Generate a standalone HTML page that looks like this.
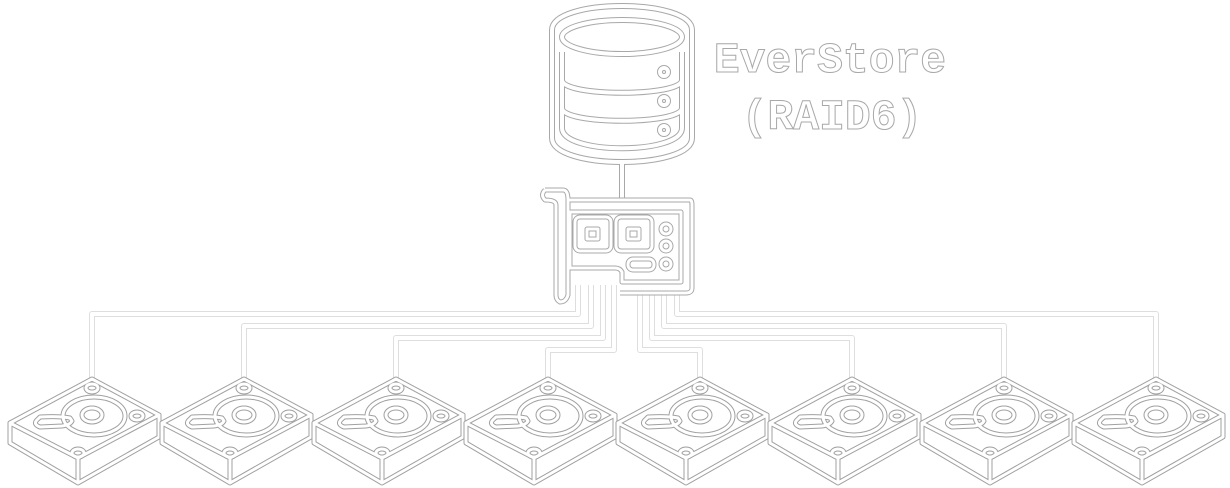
<!DOCTYPE html>
<html><head><style>
html,body{margin:0;padding:0;background:#fff;width:1230px;height:488px;overflow:hidden}
</style></head><body>
<svg width="1230" height="488" viewBox="0 0 1230 488" xmlns="http://www.w3.org/2000/svg">
<defs>
<g id="drive" fill="none" stroke-linejoin="round" stroke-linecap="round">
  <path d="M10,423 L92,379 L159,415 L78,458 Z"/>
  <path d="M10,423 L10,443 L78,483 L159,437 L159,415 M78,458 L78,483"/>
  <ellipse cx="94" cy="416" rx="31" ry="19"/>
  <ellipse cx="92" cy="415" rx="10" ry="7"/>
  <path d="M38,419 Q32,424 40,427 L62,426 Q70,425 72,421 L70,418 Q60,416 40,417 Z"/>
  <ellipse cx="92" cy="388" rx="6" ry="4"/>
  <ellipse cx="137" cy="416" rx="6" ry="4"/>
  <ellipse cx="78" cy="453" rx="6" ry="4"/>
</g>
<g id="wires" fill="none" stroke-linejoin="round">
  <path d="M92,379 V314 H578 V285"/>
  <path d="M244,379 V326 H591 V285"/>
  <path d="M396,379 V338 H603 V285"/>
  <path d="M548,379 V350 H614 V285"/>
  <path d="M700,379 V350 H640 V295"/>
  <path d="M852,379 V338 H652 V295"/>
  <path d="M1004,379 V326 H664 V295"/>
  <path d="M1156,379 V314 H677 V295"/>
</g>
<g id="db" fill="none">
  <path d="M552,30 C552,-2 692,-2 692,30 V138 C692,170 552,170 552,138 Z"/>
  <ellipse cx="622" cy="37" rx="60" ry="17"/>
  <path d="M562,52 V128 C562,155 682,155 682,128 V52"/>
  <path d="M562,80 C562,97 682,97 682,80 M562,108 C562,125 682,125 682,108"/>
  <circle cx="664" cy="72" r="4"/><circle cx="664" cy="101" r="4"/><circle cx="664" cy="130" r="4"/>
  <path d="M622,160 V200"/>
</g>
<g id="card" fill="none" stroke-linejoin="round">
  <path d="M545,190 H563 Q568,190 568,200 H690 Q692,200 692,205 V288 Q692,293 686,293 H620 M568,200 V295 Q566,302 560,302 Q556,300 556,295 V205 Q556,200 545,200 Q540,195 545,190"/>
  <path d="M570,212 H681 V282 H622 V272 Q620,268 615,268 H570 Z"/>
  <rect x="575" y="217" width="36" height="34" rx="5"/>
  <rect x="616" y="217" width="36" height="34" rx="5"/>
  <rect x="587" y="229" width="11" height="10"/>
  <rect x="628" y="229" width="11" height="10"/>
  <circle cx="666" cy="229" r="5"/><circle cx="666" cy="246" r="5"/><circle cx="666" cy="264" r="5"/>
  <rect x="628" y="259" width="26" height="11" rx="5"/>
</g>
</defs>
<use href="#wires" stroke="#dedede" stroke-width="6"/>
<use href="#wires" stroke="#fff" stroke-width="4"/>
<g>
<use href="#drive" stroke="#a0a0a0" stroke-width="5"/>
<use href="#drive" stroke="#fff" stroke-width="3"/>
</g>
<g transform="translate(152,0)"><use href="#drive" stroke="#a0a0a0" stroke-width="5"/><use href="#drive" stroke="#fff" stroke-width="3"/></g>
<g transform="translate(304,0)"><use href="#drive" stroke="#a0a0a0" stroke-width="5"/><use href="#drive" stroke="#fff" stroke-width="3"/></g>
<g transform="translate(456,0)"><use href="#drive" stroke="#a0a0a0" stroke-width="5"/><use href="#drive" stroke="#fff" stroke-width="3"/></g>
<g transform="translate(608,0)"><use href="#drive" stroke="#a0a0a0" stroke-width="5"/><use href="#drive" stroke="#fff" stroke-width="3"/></g>
<g transform="translate(760,0)"><use href="#drive" stroke="#a0a0a0" stroke-width="5"/><use href="#drive" stroke="#fff" stroke-width="3"/></g>
<g transform="translate(912,0)"><use href="#drive" stroke="#a0a0a0" stroke-width="5"/><use href="#drive" stroke="#fff" stroke-width="3"/></g>
<g transform="translate(1064,0)"><use href="#drive" stroke="#a0a0a0" stroke-width="5"/><use href="#drive" stroke="#fff" stroke-width="3"/></g>
<use href="#db" stroke="#a8a8a8" stroke-width="6"/>
<use href="#db" stroke="#fff" stroke-width="4"/>
<use href="#card" stroke="#a8a8a8" stroke-width="5"/>
<use href="#card" stroke="#fff" stroke-width="3"/>
<g font-family="Liberation Mono, monospace" font-size="43" font-weight="bold" fill="#fff" stroke="#a8a8a8" stroke-width="1" text-anchor="middle">
<text x="830" y="72">EverStore</text>
<text x="832" y="129">(RAID6)</text>
</g>
</svg>
</body></html>
